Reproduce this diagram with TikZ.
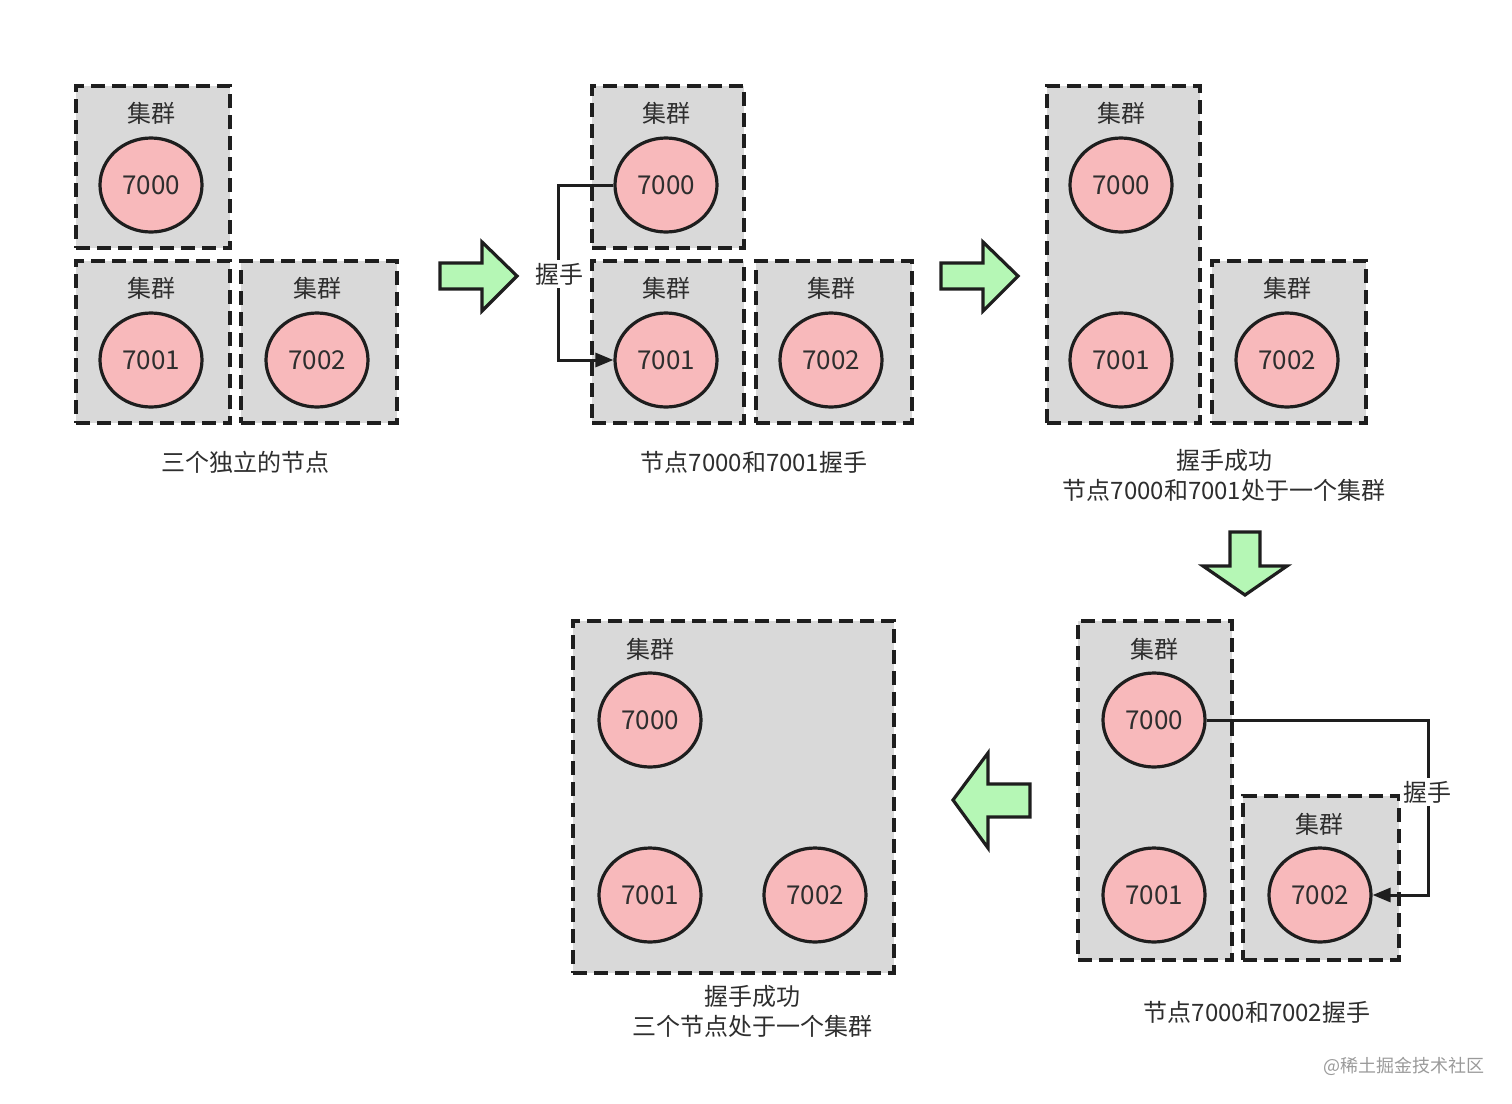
\documentclass[tikz,border=0pt]{standalone}
\usepackage{fontspec}
\setmainfont{Noto Sans CJK SC}
\usetikzlibrary{shapes.geometric,fit,arrows.meta}
\definecolor{boxgray}{HTML}{D9D9D9}
\definecolor{nodepink}{HTML}{F8B9BB}
\definecolor{arrowgreen}{HTML}{B5F7B5}
\definecolor{inkdark}{HTML}{1E1E1E}
\definecolor{textgray}{HTML}{2E2E2E}
\definecolor{markgray}{HTML}{9A9A9A}
\tikzset{
  clusterbox/.style={rectangle, draw=inkdark, fill=boxgray, line width=1.75pt,
    dash pattern=on 7pt off 3.5pt, inner sep=0pt},
  redisnode/.style={ellipse, draw=inkdark, fill=nodepink, line width=1.6pt,
    minimum width=51pt, minimum height=47pt, inner sep=0pt,
    text=textgray, font=\fontsize{13}{15}\selectfont},
  ctitle/.style={text=textgray, inner sep=0pt, font=\fontsize{12}{14}\selectfont},
  caption/.style={text=textgray, align=center, inner sep=0pt,
    font=\fontsize{12}{15}\selectfont},
  conn/.style={draw=inkdark, line width=1.5pt, -{Triangle[length=9pt,width=7pt]}},
  shakelabel/.style={fill=white, text=textgray, inner sep=1.5pt,
    font=\fontsize{12}{14}\selectfont},
  bigarrow/.style={fill=arrowgreen, draw=inkdark, line width=1.6pt, line join=miter},
}
\begin{document}
\begin{tikzpicture}[x=0.5pt,y=-0.5pt]
\useasboundingbox (0,0) rectangle (1512,1104);

% ---------- Panel 1 ----------
\node[clusterbox, fit={(76,86) (230,248)}] (p1a) {};
\node[clusterbox, fit={(76,261) (230,423)}] (p1b) {};
\node[clusterbox, fit={(241,261) (397,423)}] (p1c) {};
\node[ctitle] (p1ta) at (151,113) {集群};
\node[ctitle] (p1tb) at (151,288) {集群};
\node[ctitle] (p1tc) at (317,288) {集群};
\node[redisnode] (p1n0) at (151,185) {7000};
\node[redisnode] (p1n1) at (151,360) {7001};
\node[redisnode] (p1n2) at (317,360) {7002};
\node[caption] (p1cap) at (245,462) {三个独立的节点};

% arrow 1
\draw[bigarrow] (440,263) -- (482,263) -- (482,242) -- (517,276) -- (482,311) -- (482,289) -- (440,289) -- cycle;

% ---------- Panel 2 ----------
\node[clusterbox, fit={(592,86) (744,248)}] (p2a) {};
\node[clusterbox, fit={(592,261) (744,423)}] (p2b) {};
\node[clusterbox, fit={(756,261) (912,423)}] (p2c) {};
\node[ctitle] (p2ta) at (666,113) {集群};
\node[ctitle] (p2tb) at (666,288) {集群};
\node[ctitle] (p2tc) at (831,288) {集群};
\node[redisnode] (p2n0) at (666,185) {7000};
\node[redisnode] (p2n1) at (666,360) {7001};
\node[redisnode] (p2n2) at (831,360) {7002};
\coordinate (h2) at (558,185);
\draw[conn] (p2n0.west) -- (h2) |- (p2n1.west);
\node[shakelabel] (p2lab) at (559,274) {握手};
\node[caption] (p2cap) at (754,462) {节点7000和7001握手};

% arrow 2
\draw[bigarrow] (941,263) -- (983,263) -- (983,242) -- (1018,276) -- (983,311) -- (983,289) -- (941,289) -- cycle;

% ---------- Panel 3 ----------
\node[clusterbox, fit={(1047,86) (1200,423)}] (p3a) {};
\node[clusterbox, fit={(1212,261) (1366,423)}] (p3c) {};
\node[ctitle] (p3ta) at (1121,113) {集群};
\node[ctitle] (p3tc) at (1287,288) {集群};
\node[redisnode] (p3n0) at (1121,185) {7000};
\node[redisnode] (p3n1) at (1121,360) {7001};
\node[redisnode] (p3n2) at (1287,360) {7002};
\node[caption] (p3cap) at (1224,475) {握手成功\\节点7000和7001处于一个集群};

% arrow down
\draw[bigarrow] (1230,532) -- (1260,532) -- (1260,566) -- (1287,566) -- (1245,595) -- (1203,566) -- (1230,566) -- cycle;

% ---------- Panel 4 ----------
\node[clusterbox, fit={(1078,621) (1232,960)}] (p4a) {};
\node[clusterbox, fit={(1243,796) (1399,960)}] (p4c) {};
\node[ctitle] (p4ta) at (1154,649) {集群};
\node[ctitle] (p4tc) at (1319,824) {集群};
\node[redisnode] (p4n0) at (1154,720) {7000};
\node[redisnode] (p4n1) at (1154,895) {7001};
\node[redisnode] (p4n2) at (1320,895) {7002};
\coordinate (h4) at (1428,720);
\draw[conn] (p4n0.east) -- (h4) |- (p4n2.east);
\node[shakelabel] (p4lab) at (1427,792) {握手};
\node[caption] (p4cap) at (1257,1012) {节点7000和7002握手};

% arrow left
\draw[bigarrow] (1030,784) -- (988,784) -- (988,753) -- (953,800) -- (988,848) -- (988,817) -- (1030,817) -- cycle;

% ---------- Panel 5 ----------
\node[clusterbox, fit={(573,621) (894,973)}] (p5a) {};
\node[ctitle] (p5ta) at (650,649) {集群};
\node[redisnode] (p5n0) at (650,720) {7000};
\node[redisnode] (p5n1) at (650,895) {7001};
\node[redisnode] (p5n2) at (815,895) {7002};
\node[caption] (p5cap) at (752,1011) {握手成功\\三个节点处于一个集群};

% watermark
\node[text=markgray, inner sep=0pt, font=\fontsize{9}{11}\selectfont] (mark) at (1404,1066) {@稀土掘金技术社区};
\end{tikzpicture}
\end{document}
